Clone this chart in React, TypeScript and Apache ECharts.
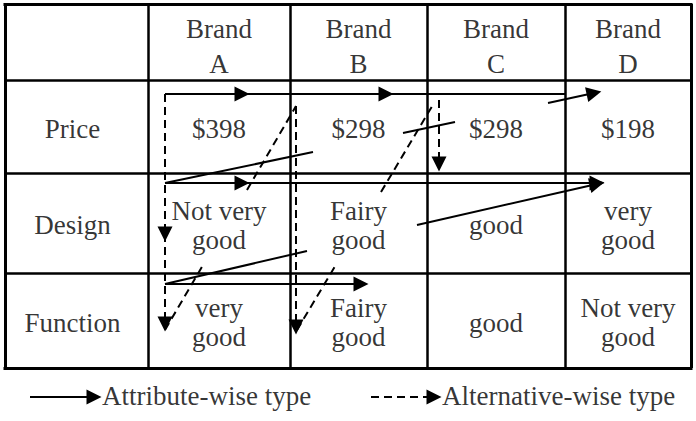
import React, { useEffect, useRef } from 'react';
import * as echarts from 'echarts';

// ---- table content ----
const COL_EDGES = [5, 148, 290, 427, 565, 691];
const ROW_EDGES = [4, 80, 173, 273, 368];
const BRANDS = ['Brand\nA', 'Brand\nB', 'Brand\nC', 'Brand\nD'];
const ATTRIBUTES = ['Price', 'Design', 'Function'];
const PRICE = ['$398', '$298', '$298', '$198'];
const DESIGN = ['Not very\ngood', 'Fairy\ngood', 'good', 'very\ngood'];
const FUNCTION = ['very\ngood', 'Fairy\ngood', 'good', 'Not very\ngood'];

// ---- reading paths: [x1, y1, x2, y2, hasArrowHead] ----
const ATTRIBUTE_WISE = [
  [165, 94, 242, 94, 1], [242, 94, 386, 94, 1], [386, 94, 565, 94, 0],
  [165, 183, 313, 152, 0], [403, 133, 455, 122, 0], [548, 103, 594, 93, 1],
  [165, 183, 242, 183, 1], [242, 183, 597, 183, 1],
  [165, 284, 307, 251, 0], [417, 225, 597, 184, 1],
  [165, 284, 361, 284, 1],
];
const ALTERNATIVE_WISE = [
  [165, 94, 165, 234, 1], [165, 234, 165, 324, 1],
  [165, 330, 203, 265, 0], [247, 190, 296, 106, 0],
  [296, 106, 296, 327, 1],
  [297, 330, 337, 263, 0], [381, 192, 434, 103, 0],
  [439, 100, 439, 164, 1],
];
const LEGEND_LABELS = ['Attribute-wise type', 'Alternative-wise type'];

const FONT = 'Liberation Serif, Times New Roman, serif';
const FS = 27;

function segData(list: number[][], head: boolean) {
  return list.filter((s) => !!s[4] === head).map((s) => ({ coords: [[s[0], s[1]], [s[2], s[3]]] }));
}

function buildOption() {
  const nC = COL_EDGES.length - 1;
  const nR = ROW_EDGES.length - 1;
  const x0 = COL_EDGES[0], x1 = COL_EDGES[nC];
  const y0 = ROW_EDGES[0], y1 = ROW_EDGES[nR];
  const tableLines: any[] = [];
  ROW_EDGES.forEach((y, i) => {
    const outer = i === 0 || i === nR;
    tableLines.push({ coords: [[x0 - (outer ? 1.5 : 0), y], [x1 + (outer ? 1.5 : 0), y]], lineStyle: { width: outer ? 3 : 2.5 } });
  });
  COL_EDGES.forEach((x, i) => {
    const outer = i === 0 || i === nC;
    tableLines.push({ coords: [[x, y0], [x, y1]], lineStyle: { width: outer ? 3 : 2.5 } });
  });

  const rows = [['', ...BRANDS], [ATTRIBUTES[0], ...PRICE], [ATTRIBUTES[1], ...DESIGN], [ATTRIBUTES[2], ...FUNCTION]];
  const cellTexts: any[] = [];
  rows.forEach((row, r) => {
    row.forEach((txt, c) => {
      if (!txt) return;
      const cx = (COL_EDGES[c] + COL_EDGES[c + 1]) / 2 + (c === 0 ? -4 : 0);
      const cy = (ROW_EDGES[r] + ROW_EDGES[r + 1]) / 2 + (r === 0 ? 4 : 2);
      cellTexts.push({ value: [cx, cy], label: { formatter: txt, lineHeight: r === 0 ? 35 : 29 } });
    });
  });

  const legendY = 396;
  const legendTexts = [
    { value: [102, legendY], label: { formatter: LEGEND_LABELS[0], align: 'left' } },
    { value: [442, legendY], label: { formatter: LEGEND_LABELS[1], align: 'left' } },
  ];

  const arrowSym = ['none', 'path://M5,0 L10,15 L0,15 Z'];
  const arrowSize = [0, 15];
  const solid = { color: '#000', width: 2, type: 'solid', opacity: 1 };
  const dashed = { color: '#000', width: 2, type: [8, 5], opacity: 1 };
  const headed = { symbol: arrowSym, symbolSize: arrowSize, symbolKeepAspect: true };

  return {
    animation: false,
    backgroundColor: '#fff',
    grid: { left: 0, right: 0, top: 0, bottom: 0 },
    xAxis: { type: 'value', min: 0, max: 696, show: false },
    yAxis: { type: 'value', min: 0, max: 421, inverse: true, show: false },
    series: [
      {
        type: 'lines', coordinateSystem: 'cartesian2d', silent: true, z: 1,
        lineStyle: { color: '#000', width: 2.5, opacity: 1 }, symbol: 'none', data: tableLines,
      },
      {
        type: 'lines', coordinateSystem: 'cartesian2d', silent: true, z: 3,
        lineStyle: solid, symbol: 'none', data: segData(ATTRIBUTE_WISE, false),
      },
      {
        type: 'lines', coordinateSystem: 'cartesian2d', silent: true, z: 3,
        lineStyle: solid, ...headed, data: segData(ATTRIBUTE_WISE, true),
      },
      {
        type: 'lines', coordinateSystem: 'cartesian2d', silent: true, z: 3,
        lineStyle: dashed, symbol: 'none', data: segData(ALTERNATIVE_WISE, false),
      },
      {
        type: 'lines', coordinateSystem: 'cartesian2d', silent: true, z: 3,
        lineStyle: dashed, ...headed, data: segData(ALTERNATIVE_WISE, true),
      },
      {
        type: 'lines', coordinateSystem: 'cartesian2d', silent: true, z: 3,
        lineStyle: solid, ...headed,
        data: [{ coords: [[30, 397], [94, 397]] }],
      },
      {
        type: 'lines', coordinateSystem: 'cartesian2d', silent: true, z: 3,
        lineStyle: dashed, ...headed,
        data: [{ coords: [[371, 397], [434, 397]] }],
      },
      {
        type: 'scatter', silent: true, z: 4, symbolSize: 0,
        itemStyle: { color: 'rgba(0,0,0,0)' },
        label: {
          show: true, position: 'inside', color: '#000', fontFamily: FONT, fontSize: FS,
          align: 'center', verticalAlign: 'middle',
        },
        data: [...cellTexts, ...legendTexts],
      },
    ],
  };
}

export default function App() {
  const ref = useRef<HTMLDivElement>(null);
  useEffect(() => {
    document.body.style.margin = '0';
    if (!ref.current) return;
    const chart = echarts.init(ref.current, undefined, { renderer: 'svg' });
    chart.setOption(buildOption() as any);
    return () => chart.dispose();
  }, []);
  return <div ref={ref} style={{ width: 696, height: 421, position: 'absolute', left: 0, top: 0 }} />;
}
